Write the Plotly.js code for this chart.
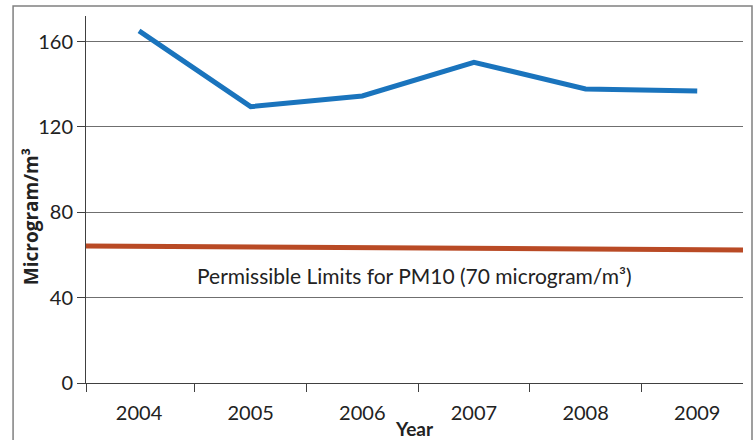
<!DOCTYPE html>
<html>
<head>
<meta charset="utf-8">
<script src="https://cdn.plot.ly/plotly-3.0.1.min.js"></script>
<style>
html,body{margin:0;padding:0;background:#fff;}
#chart{width:755px;height:440px;}
</style>
</head>
<body>
<div id="chart"></div>
<script>
// Data
var years = ['2004', '2005', '2006', '2007', '2008', '2009'];
var yearPos = [0, 1, 2, 3, 4, 5];
var pm10 = [165, 129.5, 134.5, 150.3, 137.8, 136.8];
var limitX = [-0.5, 5.5];
var limitY = [64.2, 62.3];
var yTicks = [0, 40, 80, 120, 160];
var boundaryTicks = [-0.475, 0.5, 1.5, 2.5, 3.5, 4.5];
var limitLabel = 'Permissible Limits for PM10 (70 microgram/m³)';
var yTitle = 'Microgram/m³';
var xTitle = 'Year';

var font = 'Lato, "Open Sans", sans-serif';

var traces = [
  {
    x: limitX, y: limitY, type: 'scatter', mode: 'lines',
    line: {color: '#b94a25', width: 5},
    hoverinfo: 'skip', showlegend: false
  },
  {
    x: yearPos, y: pm10, type: 'scatter', mode: 'lines',
    line: {color: '#1a74bd', width: 5},
    showlegend: false
  },
  {
    x: yearPos, y: [null, null, null, null, null, null], xaxis: 'x2', yaxis: 'y',
    type: 'scatter', mode: 'lines', hoverinfo: 'skip', showlegend: false
  }
];

var layout = {
  width: 755, height: 440,
  margin: {l: 86, r: 12, t: 16, b: 57},
  paper_bgcolor: '#fff', plot_bgcolor: '#fff',
  font: {family: font, size: 20, color: '#222'},
  showlegend: false,
  xaxis: {
    type: 'linear', range: [-0.475, 5.41],
    tickvals: boundaryTicks, showticklabels: false,
    ticks: 'outside', ticklen: 8, tickwidth: 1, tickcolor: '#404040',
    showline: true, linecolor: '#404040', linewidth: 1,
    showgrid: false, zeroline: false, fixedrange: true
  },
  xaxis2: {
    type: 'linear', range: [-0.475, 5.41], overlaying: 'x', anchor: 'y', side: 'bottom',
    tickvals: yearPos, ticktext: years,
    ticks: 'outside', ticklen: 12, tickcolor: 'rgba(0,0,0,0)',
    showline: false, showgrid: false, zeroline: false,
    tickfont: {family: font, size: 20, color: '#222'},
    title: {text: '<b>' + xTitle + '</b>', font: {family: font, size: 19, color: '#222'}, standoff: 7}
  },
  yaxis: {
    range: [0, 172], tickvals: yTicks,
    ticks: 'outside', ticklen: 8, tickwidth: 1, tickcolor: '#404040',
    showline: true, linecolor: '#404040', linewidth: 1,
    showgrid: true, gridcolor: '#6f6f6f', gridwidth: 1, zeroline: false,
    tickfont: {family: font, size: 20, color: '#222'}
  },
  annotations: [
    {
      xref: 'paper', yref: 'y', x: 0.5, y: 50.5,
      text: limitLabel, showarrow: false,
      font: {family: font, size: 21, color: '#222'}
    },
    {
      xref: 'paper', yref: 'paper', x: -0.0837, y: 0.452,
      xanchor: 'center', yanchor: 'middle',
      text: '<b>' + yTitle + '</b>', textangle: -90, showarrow: false,
      font: {family: '"Open Sans", sans-serif', size: 19, color: '#222'}
    }
  ],
  shapes: [
    {
      type: 'rect', xref: 'paper', yref: 'paper',
      x0: -0.111, x1: 1.0137, y0: -0.4, y1: 1.027,
      line: {color: '#808080', width: 1.5}, fillcolor: 'rgba(0,0,0,0)', layer: 'below'
    }
  ]
};

Plotly.newPlot('chart', traces, layout, {displayModeBar: false, staticPlot: true});
</script>
</body>
</html>
